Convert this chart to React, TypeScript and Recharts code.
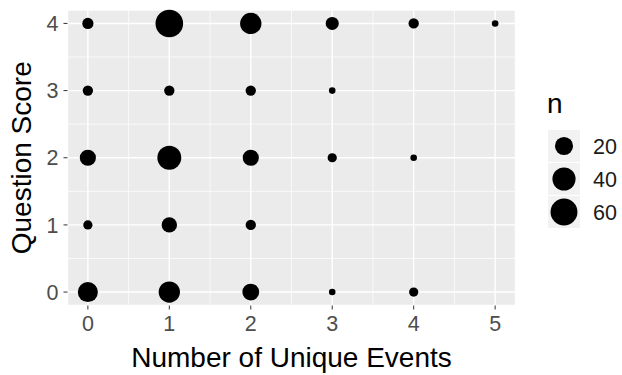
import React from 'react';
import { ScatterChart, Scatter, XAxis, YAxis, CartesianGrid, ReferenceLine, Label } from 'recharts';

const uniqueEvents = [0, 1, 2, 3, 4, 5, 0, 1, 2, 3, 0, 1, 2, 3, 4, 0, 1, 2, 0, 1, 2, 3, 4];
const questionScore = [4, 4, 4, 4, 4, 4, 3, 3, 3, 3, 2, 2, 2, 2, 2, 1, 1, 1, 0, 0, 0, 0, 0];
const counts = [4, 64, 32, 7, 3, 1, 3, 3, 3, 1, 14, 44, 14, 2, 1, 2, 12, 3, 27, 32, 16, 1, 2];
const xTicks = [0, 1, 2, 3, 4, 5];
const yTicks = [0, 1, 2, 3, 4];
const xMinor = [0.5, 1.5, 2.5, 3.5, 4.5];
const yMinor = [0.5, 1.5, 2.5, 3.5];
const legendBreaks = [20, 40, 60];

const data = uniqueEvents.map((x, i) => ({ x, y: questionScore[i], n: counts[i] }));

const nMin = Math.min(...counts);
const nMax = Math.max(...counts);
// ggplot-like area scale: size in [1, 6]
const diameter = (n: number) => {
  const t = (n - nMin) / (nMax - nMin);
  const s = 1 + 5 * Math.sqrt(Math.max(0, t));
  return 4.2 * s + 2.4;
};

const FONT = '"Liberation Sans", Arial, sans-serif';
const TITLE = 28;
const TICK = 21.5;

const Dot = (props: any) => {
  const { cx, cy, payload } = props;
  if (cx == null || cy == null) return null;
  return <circle cx={cx} cy={cy} r={diameter(payload.n) / 2} fill="#000" />;
};

export default function App() {
  return (
    <div style={{ position: 'absolute', left: 0, top: 0, width: 622, height: 375, background: '#fff' }}>
      <ScatterChart width={622} height={375} margin={{ top: 10, right: 106.5, bottom: 0, left: 0 }}>
        <CartesianGrid fill="#EBEBEB" stroke="#FFFFFF" strokeWidth={1.4} />
        {xMinor.map((v) => (
          <ReferenceLine key={'xm' + v} x={v} stroke="#FFFFFF" strokeWidth={0.7} />
        ))}
        {yMinor.map((v) => (
          <ReferenceLine key={'ym' + v} y={v} stroke="#FFFFFF" strokeWidth={0.7} />
        ))}
        <XAxis
          type="number"
          dataKey="x"
          domain={[-0.25, 5.25]}
          ticks={xTicks}
          height={69.5}
          axisLine={false}
          tickLine={{ stroke: '#333333', strokeWidth: 1 }}
          tickSize={4}
          tickMargin={6}
          tick={{ fill: '#4D4D4D', fontSize: TICK, fontFamily: FONT }}
          interval={0}
        >
          <Label
            content={({ viewBox }: any) => (
              <text
                x={viewBox.x + viewBox.width / 2}
                y={viewBox.y + 61}
                textAnchor="middle"
                fontSize={TITLE}
                fontFamily={FONT}
                fill="#000"
              >
                Number of Unique Events
              </text>
            )}
          />
        </XAxis>
        <YAxis
          type="number"
          dataKey="y"
          domain={[-0.2, 4.2]}
          ticks={yTicks}
          width={67.5}
          axisLine={false}
          tickLine={{ stroke: '#333333', strokeWidth: 1 }}
          tickSize={4}
          tickMargin={5}
          tick={{ fill: '#4D4D4D', fontSize: TICK, fontFamily: FONT }}
          interval={0}
        >
          <Label
            content={({ viewBox }: any) => {
              const x = viewBox.x + 31;
              const y = viewBox.y + viewBox.height / 2;
              return (
                <text
                  x={x}
                  y={y}
                  transform={`rotate(-90 ${x} ${y})`}
                  textAnchor="middle"
                  fontSize={TITLE}
                  fontFamily={FONT}
                  fill="#000"
                >
                  Question Score
                </text>
              );
            }}
          />
        </YAxis>
        <Scatter data={data} fill="#000" shape={Dot} isAnimationActive={false} />
      </ScatterChart>
      <svg
        width={82}
        height={160}
        style={{ position: 'absolute', left: 540, top: 85 }}
        fontFamily={FONT}
      >
        <text x={7} y={28} fontSize={TITLE} fill="#000">n</text>
        {legendBreaks.map((b, i) => {
          const top = 45 + i * 33;
          return (
            <g key={b}>
              <rect x={8} y={top} width={32} height={32} fill="#F2F2F2" />
              <circle cx={24} cy={top + 16} r={diameter(b) / 2} fill="#000" />
              <text x={53} y={top + 16} dy="0.36em" fontSize={TICK} fill="#1A1A1A">{b}</text>
            </g>
          );
        })}
      </svg>
    </div>
  );
}
